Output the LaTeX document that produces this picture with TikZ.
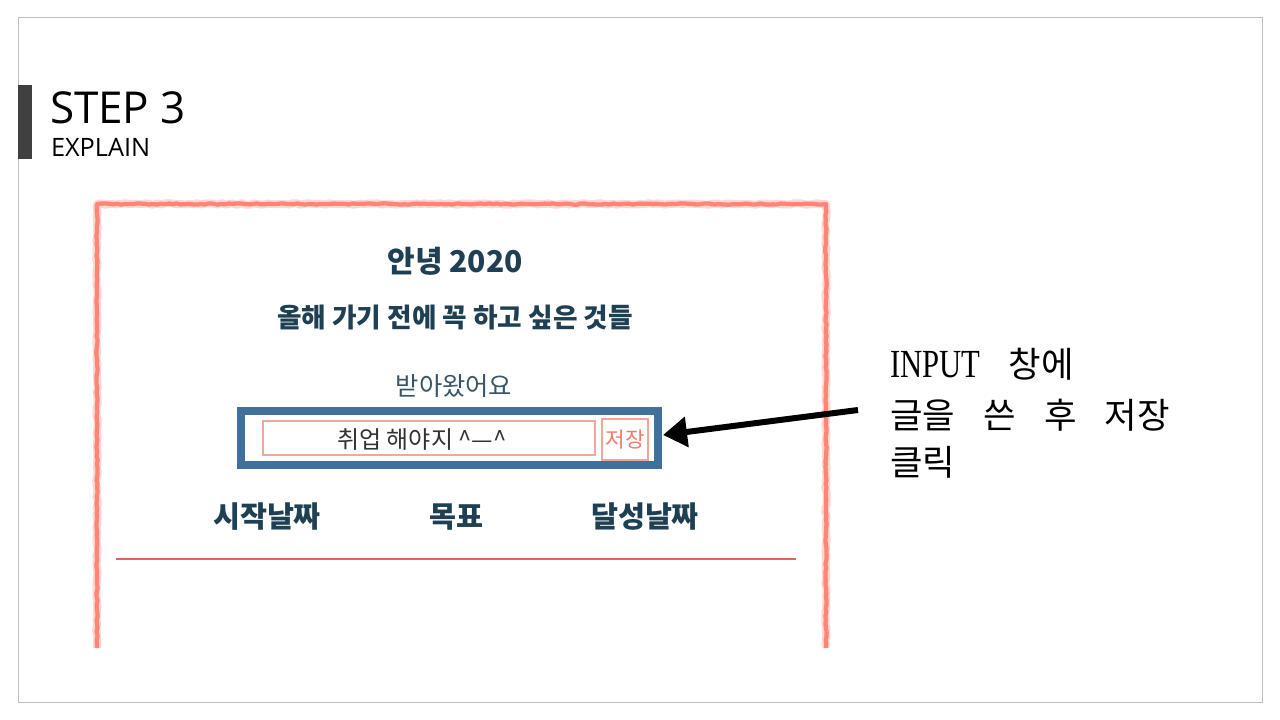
\documentclass[tikz,border=0pt]{standalone}
\usepackage{fontspec}
\setmainfont{Liberation Serif}
\newfontfamily\kr{Noto Sans CJK KR}
\newfontfamily\hand{Open Sans}
\usetikzlibrary{arrows.meta,decorations.pathmorphing,calc}
\definecolor{slidegray}{HTML}{BFBFBF}
\definecolor{darkbar}{HTML}{404040}
\definecolor{navy}{HTML}{1F3F52}
\definecolor{softnavy}{HTML}{3A5566}
\definecolor{bluebox}{HTML}{41709C}
\definecolor{redframe}{HTML}{FF8577}
\definecolor{pinkline}{HTML}{F5A59A}
\definecolor{savetxt}{HTML}{F07C6C}
\definecolor{sepred}{HTML}{E0645A}
\begin{document}
\begin{tikzpicture}[x=0.75pt,y=-0.75pt,
  txt/.style={inner sep=0pt, outer sep=0pt},
  titletxt/.style={txt, text=navy, font=\kr\bfseries\fontsize{22.5}{22.5}\selectfont},
  coltxt/.style={txt, text=navy, font=\kr\bfseries\fontsize{22}{22}\selectfont},
  righttxt/.style={txt, anchor=base west, text=black, font=\kr\fontsize{26.5}{26.5}\selectfont},
  pencilwide/.style={draw=redframe!45, line width=6pt, line join=round, opacity=0.7,
    decorate, decoration={random steps, segment length=3pt, amplitude=0.6pt}},
  pencil/.style={draw=redframe, line width=3.2pt, line join=round,
    decorate, decoration={random steps, segment length=3pt, amplitude=0.5pt}},
  pinkbox/.style={draw=pinkline, line width=1.5pt, inner sep=0pt, rectangle},
  bigarrow/.style={draw=black, line width=4.5pt, -{Triangle[length=18pt,width=22pt]}}
]
\pgfmathsetseed{7}
\useasboundingbox[fill=white] (0,0) rectangle (1280,720);
% slide frame and header
\draw[slidegray, line width=0.75pt] (18,18) rectangle (1262,702);
\fill[darkbar] (18,85) rectangle (32,159);
\node[txt, anchor=base west, font=\hand\fontsize{33}{33}\selectfont] (step) at (50,124) {STEP 3};
\node[txt, anchor=base west, font=\hand\fontsize{19}{19}\selectfont] (explain) at (51,157) {EXPLAIN};
% red sketchy frame (open at the bottom)
\draw[pencilwide] (97,648) -- (97,204) -- (826,204) -- (826,648);
\draw[pencil] (97,648) -- (97,204) -- (826,204) -- (826,648);
% titles
\node[titletxt] (t1) at (455,261) {안녕 2020};
\node[titletxt, font=\kr\bfseries\fontsize{20}{20}\selectfont] (t2) at (455,317) {올해 가기 전에 꼭 하고 싶은 것들};
\node[txt, text=softnavy, font=\kr\fontsize{19}{19}\selectfont] (recv) at (454,386) {받아왔어요};
% input area
\node[draw=bluebox, line width=6pt, rectangle, inner sep=0pt,
      minimum width=312.75pt, minimum height=40.5pt] (bluebox) at (449.5,438) {};
\node[pinkbox, minimum width=249pt, minimum height=25.5pt] (inputbox) at (429,438) {};
\node[txt, text=black!80, font=\kr\fontsize{18}{18}\selectfont] (inputtxt) at (422,440) {취업 해야지 \^{}—\^{}};
\node[pinkbox, minimum width=34.5pt, minimum height=30.75pt] (savebtn) at (625,439.5) {};
\node[txt, text=savetxt, font=\kr\fontsize{16}{16}\selectfont] (savetxt) at (625,439.5) {저장};
% column headings
\node[coltxt] (c1) at (267,517) {시작날짜};
\node[coltxt] (c2) at (456,517) {목표};
\node[coltxt] (c3) at (645,517) {달성날짜};
\coordinate (sepL) at (116,559);
\coordinate (sepR) at (796,559);
\draw[sepred, line width=0.9pt] (sepL) -- (sepR);
% annotation
\coordinate (arrS) at (858,410);
\draw[bigarrow] (arrS) -- ($(bluebox.east)+(1,-3)$);
\node[righttxt] (r1) at (890,377) {{\rmfamily\fontsize{23}{23}\selectfont\scalebox{1}[1.3]{INPUT}}\hspace{0.8em}창에};
\node[righttxt] (r2) at (890,428) {글을\hspace{0.8em}쓴\hspace{0.8em}후\hspace{0.8em}저장};
\node[righttxt] (r3) at (890,475) {클릭};
\end{tikzpicture}
\end{document}
